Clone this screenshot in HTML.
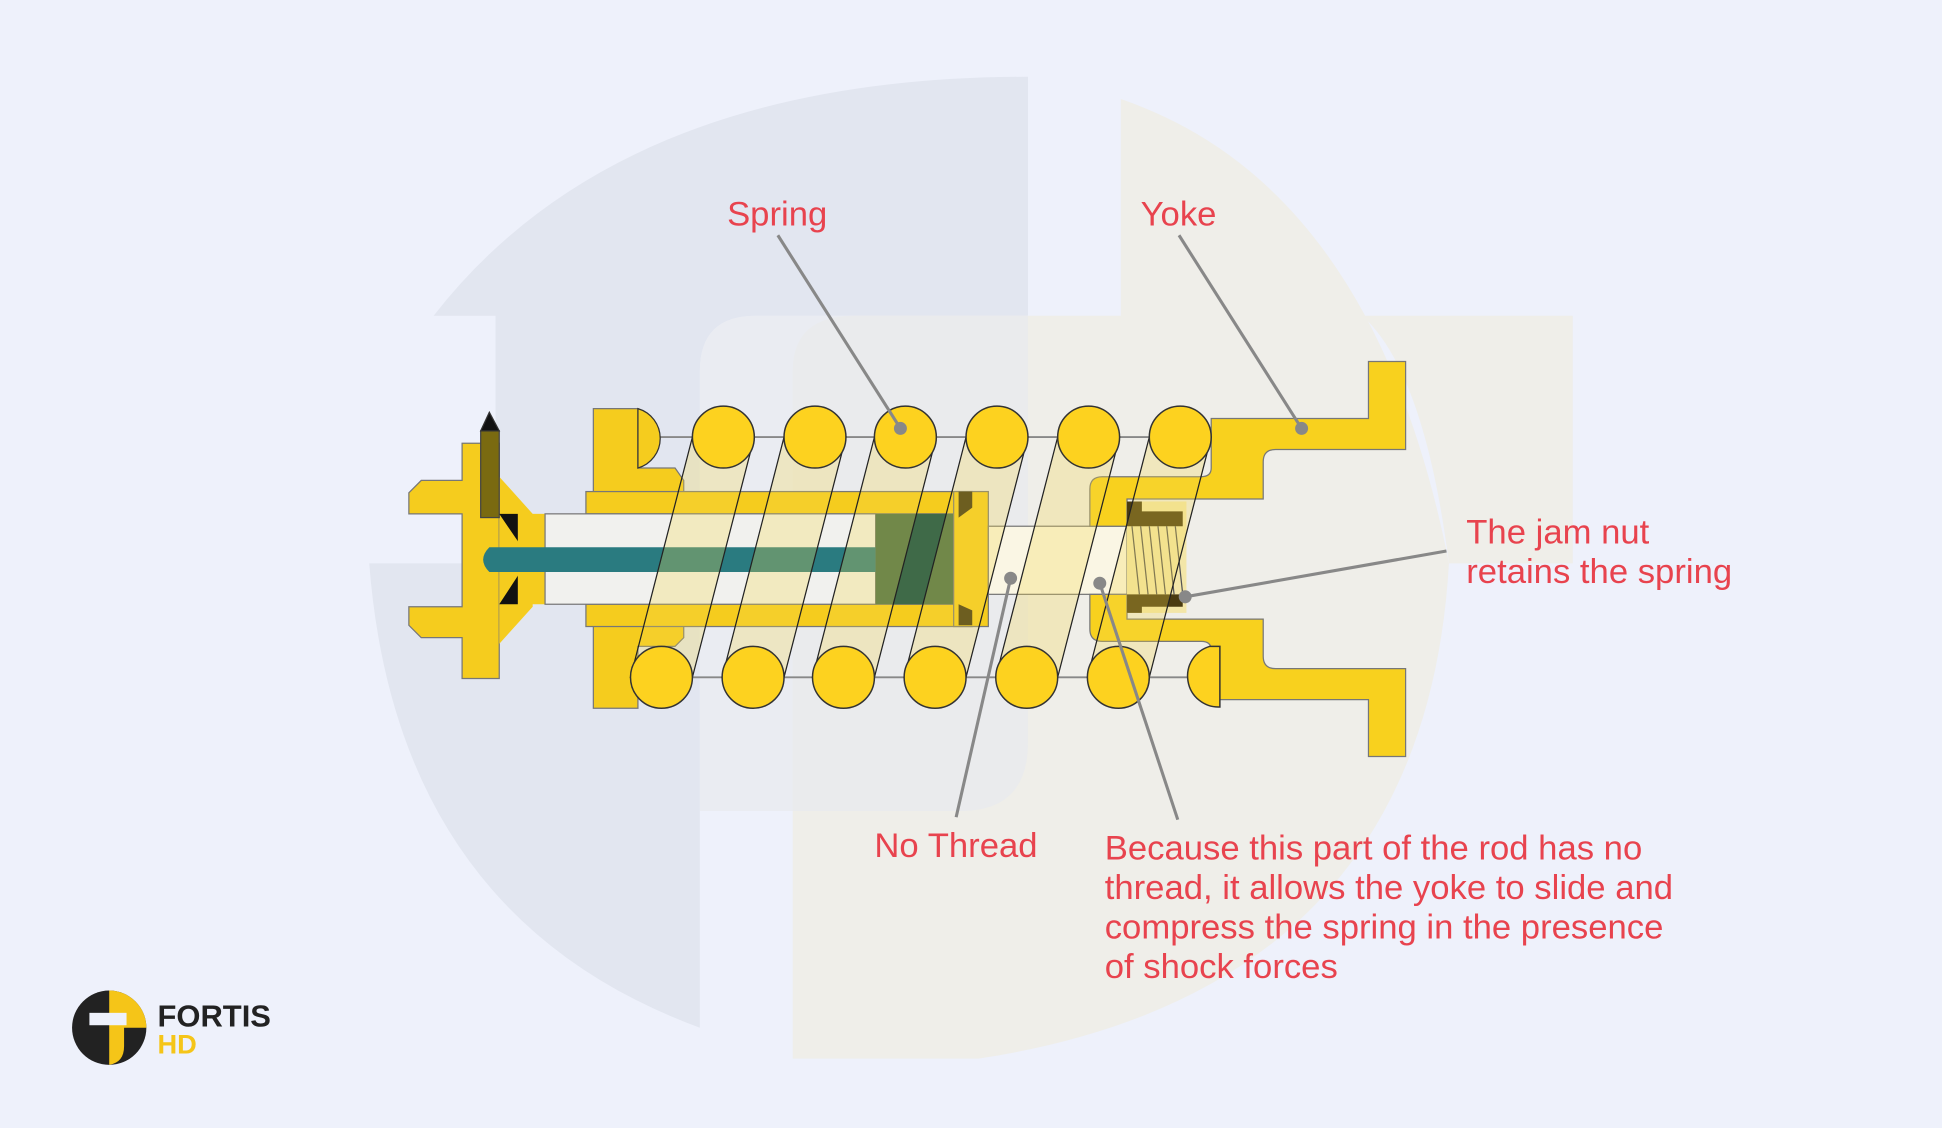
<!DOCTYPE html>
<html><head><meta charset="utf-8"><style>
html,body{margin:0;padding:0;background:#eef1fb;}
svg{display:block}
text{font-family:"Liberation Sans",sans-serif;}
</style></head><body>
<svg width="1942" height="1128" viewBox="0 0 1568 911" xmlns="http://www.w3.org/2000/svg">
<rect width="1568" height="911" fill="#eef1fb"/>
<!-- watermark -->
<path d="M350,255 Q500,62 830,62 L830,255 L610,255 Q565,255 565,300 L565,830 Q320,740 298,455 L400,455 L400,255 Z" fill="#e2e6f0"/>
<path d="M905,80 Q1110,150 1170,455 Q1150,800 790,855 L640,855 L640,300 Q640,255 690,255 L905,255 Z" fill="#efeee9"/>
<path d="M905,255 L1270,255 L1270,455 L1170,455 Q1150,300 1100,255 Z" fill="#efeee9"/>
<path d="M565,300 Q565,255 610,255 L830,255 L830,600 Q830,655 775,655 L565,655 Z" fill="#e8e9ee" opacity="0.7"/>

<g stroke="#333" stroke-width="1">
<line x1="510" y1="353" x2="975" y2="353" stroke="#888" stroke-width="1.5"/>
<line x1="530" y1="547" x2="980" y2="547" stroke="#888" stroke-width="1.5"/>

<!-- left flange -->
<path d="M330,398 L340,388 L373,388 L373,358 L403,358 L403,548 L373,548 L373,515 L340,515 L330,505 L330,490 L373,490 L373,415 L330,415 Z" fill="#f5cc1e" stroke="#777"/>
<path d="M403,385 L430,415 L430,490 L403,520 Z" fill="#f5cc1e" stroke="none"/>
<rect x="388" y="348" width="15" height="70" fill="#7a6a10" stroke="#444"/>
<path d="M388,348 L395,333 L403,348 Z" fill="#111"/>
<path d="M403,415 L418,415 L430,440 L420,440 Z M403,488 L418,488 L430,462 L420,462 Z" fill="#111" stroke="none"/>

<!-- left bracket -->
<path d="M479,330 L515,330 L515,378 L545,378 L552,388 L552,397 L479,397 Z" fill="#f5cc1e" stroke="#777"/>
<path d="M515,330 A25,25 0 0 1 515,378 Z" fill="#f5cc1e"/>
<path d="M479,505 L552,505 L552,515 L545,522 L515,522 L515,572 L479,572 Z" fill="#f5cc1e" stroke="#777"/>

<!-- housing -->
<rect x="473" y="397" width="312" height="18" fill="#f5cc1e" stroke="#777"/>
<rect x="473" y="488" width="312" height="18" fill="#f5cc1e" stroke="#777"/>
<rect x="418" y="415" width="50" height="73" fill="#f5cc1e" stroke="none"/>
<rect x="440" y="415" width="267" height="73" fill="#f1f1ee" stroke="#777"/>
<path d="M395,442 L707,442 L707,462 L395,462 Q385,452 395,442 Z" fill="#2a7b80" stroke="none"/>
<rect x="707" y="415" width="63" height="73" fill="#3f6a48" stroke="none"/>
<rect x="770" y="397" width="28" height="109" fill="#f5cc1e" stroke="#777"/>
<path d="M774,397 L785,397 L785,410 L774,418 Z M774,488 L785,493 L785,505 L774,505 Z" fill="#3a3010" stroke="none"/>
<rect x="798" y="425" width="112" height="55" fill="#faf6e4" stroke="#777"/>

<!-- yoke -->
<path d="M978,338 L1105,338 L1105,292 L1135,292 L1135,363 L1030,363 Q1020,363 1020,373 L1020,403 L910,403 L910,425 L880,425 L880,395 Q880,385 890,385 L970,385 Q978,385 978,378 Z" fill="#f8d11e" stroke="#777"/>
<path d="M880,480 L910,480 L910,500 L1020,500 L1020,530 Q1020,540 1030,540 L1135,540 L1135,611 L1105,611 L1105,565 L985,565 Q978,565 978,555 L978,525 Q978,518 970,518 L890,518 Q880,518 880,508 Z" fill="#f8d11e" stroke="#777"/>
<!-- jam nut -->
<rect x="910" y="405" width="48" height="90" fill="#f3e6a8" stroke="none"/>
<path d="M910,405 L922,405 L922,413 L955,413 L955,425 L910,425 Z M910,480 L955,480 L955,490 L922,490 L922,495 L910,495 Z" fill="#4a3b10" stroke="none"/>
<g stroke="#555" stroke-width="1">
<line x1="914" y1="425" x2="920" y2="480"/><line x1="921" y1="425" x2="927" y2="480"/><line x1="928" y1="425" x2="934" y2="480"/><line x1="935" y1="425" x2="941" y2="480"/><line x1="942" y1="425" x2="948" y2="480"/><line x1="949" y1="425" x2="955" y2="480"/>
</g>
</g>

<!-- spring bands -->
<g fill="#f5d84a" fill-opacity="0.28" stroke="#222" stroke-width="1">
<path d="M509,547 L559,353 L609,353 L559,547 Z"/>
<path d="M583,547 L633,353 L683,353 L633,547 Z"/>
<path d="M656,547 L706,353 L756,353 L706,547 Z"/>
<path d="M730,547 L780,353 L830,353 L780,547 Z"/>
<path d="M804,547 L854,353 L904,353 L854,547 Z"/>
<path d="M878,547 L928,353 L978,353 L928,547 Z"/>
</g>
<g fill="#fdd21f" stroke="#333" stroke-width="1.2">
<circle cx="584" cy="353" r="25"/><circle cx="658" cy="353" r="25"/><circle cx="731" cy="353" r="25"/><circle cx="805" cy="353" r="25"/><circle cx="879" cy="353" r="25"/><circle cx="953" cy="353" r="25"/>
<circle cx="534" cy="547" r="25"/><circle cx="608" cy="547" r="25"/><circle cx="681" cy="547" r="25"/><circle cx="755" cy="547" r="25"/><circle cx="829" cy="547" r="25"/><circle cx="903" cy="547" r="25"/>
<path d="M977,522 A25,25 0 0 0 985,571 L985,522 Z"/>
</g>

<!-- leaders -->
<g stroke="#888" stroke-width="2.5" fill="#888">
<line x1="628" y1="190" x2="727" y2="346"/><circle cx="727" cy="346" r="4"/>
<line x1="952" y1="190" x2="1051" y2="346"/><circle cx="1051" cy="346" r="4"/>
<line x1="1168" y1="445" x2="957" y2="482"/><circle cx="957" cy="482" r="4"/>
<line x1="772" y1="660" x2="816" y2="467"/><circle cx="816" cy="467" r="4"/>
<line x1="951" y1="662" x2="888" y2="471"/><circle cx="888" cy="471" r="4"/>
</g>

<g fill="#e8434e" font-size="28" xml:space="preserve">
<text x="587" y="182">Spring</text>
<text x="921" y="182">Yoke</text>
<text x="1184" y="439">The jam nut</text>
<text x="1184" y="471">retains the spring</text>
<text x="706" y="692">No Thread</text>
<text x="892" y="694">Because this part of  the rod has no</text>
<text x="892" y="726">thread, it allows the yoke to slide and</text>
<text x="892" y="758">compress the spring in the presence</text>
<text x="892" y="790">of shock forces</text>
</g>

<!-- logo -->
<circle cx="88" cy="830" r="30" fill="#222"/>
<path d="M88,800 A30,30 0 0 1 118,830 L100,830 L100,845 Q100,858 88,860 Z" fill="#f5c518"/>
<rect x="72" y="818" width="30" height="10" fill="#eef1fb"/>
<text x="127" y="829" font-size="25" font-weight="bold" fill="#222">FORTIS</text>
<text x="127" y="851" font-size="22" font-weight="bold" fill="#f5c518">HD</text>
</svg>
</body></html>
